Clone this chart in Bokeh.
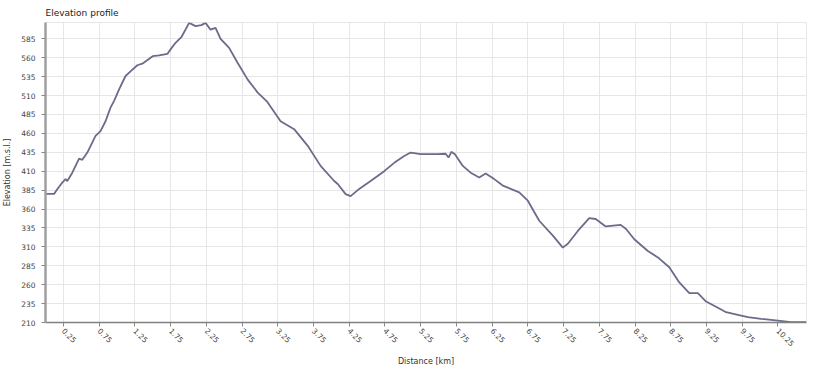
import math
from bokeh.plotting import figure
from bokeh.models import FixedTicker, Range1d
from bokeh.embed import file_html
from bokeh.resources import INLINE

distance_km = [0.00, 0.12, 0.165, 0.235, 0.28, 0.305, 0.375, 0.47, 0.515, 0.585,
               0.70, 0.77, 0.84, 0.91, 0.96, 1.03, 1.12, 1.19, 1.285, 1.355,
               1.50, 1.59, 1.705, 1.75, 1.82, 1.905, 2.01, 2.10, 2.18, 2.24,
               2.31, 2.38, 2.45, 2.57, 2.69, 2.83, 2.97, 3.105, 3.29, 3.48,
               3.67, 3.85, 4.04, 4.09, 4.20, 4.27, 4.37, 4.55, 4.74, 4.88,
               5.02, 5.11, 5.25, 5.49, 5.60, 5.64, 5.68, 5.73, 5.84, 5.95,
               6.07, 6.16, 6.28, 6.40, 6.63, 6.75, 6.91, 7.10, 7.24, 7.31,
               7.45, 7.61, 7.70, 7.84, 8.05, 8.125, 8.24, 8.43, 8.57, 8.73,
               8.87, 9.01, 9.13, 9.245, 9.41, 9.525, 9.69, 9.83, 10.015, 10.25,
               10.435, 10.645]
elevation_m = [380, 380, 386, 395, 399.5, 397, 408, 426.7, 425, 434.6,
               456.7, 463, 476, 494, 503, 518, 535.8, 542, 550, 552,
               562, 563, 565, 571, 579.7, 587.6, 606, 601.7, 603, 606,
               597, 599.5, 585, 573, 553, 531, 513.8, 501.5, 476, 465.5,
               443.5, 417, 397, 393, 379.7, 377, 385, 397, 410, 421,
               430, 434.6, 432.5, 432.5, 433, 428, 435.5, 432.5, 417, 408,
               401.6, 407, 399.5, 391, 382, 371, 344.5, 324.8, 309, 314,
               331, 348, 346.8, 337, 339, 333.6, 320, 304.5, 296, 283,
               263, 248.7, 248.7, 237.7, 229.4, 223.6, 220, 217, 214.8, 212.6,
               210.4, 210.4]

x_ticks = [0.25, 0.75, 1.25, 1.75, 2.25, 2.75, 3.25, 3.75, 4.25, 4.75, 5.25,
           5.75, 6.25, 6.75, 7.25, 7.75, 8.25, 8.75, 9.25, 9.75, 10.25]
y_ticks = [210, 235, 260, 285, 310, 335, 360, 385, 410, 435, 460, 485,
           510, 535, 560, 585]

FONT = "DejaVu Sans"

p = figure(frame_width=761, frame_height=300,
           x_range=Range1d(0, 10.65), y_range=Range1d(210, 606.5),
           title="Elevation profile",
           output_backend="svg", toolbar_location=None,
           min_border_left=43, min_border_right=22,
           min_border_top=22, min_border_bottom=0,
           background_fill_color="white", border_fill_color="white")

p.line(distance_km, elevation_m, line_color="#6b6b8c", line_width=1.8)

p.title.text_font = FONT
p.title.text_font_size = "9px"
p.title.text_font_style = "normal"
p.title.text_color = "#222222"
p.title.standoff = 10
p.title.offset = 0

p.outline_line_color = "#e6e6e6"

for ax in (p.xaxis[0], p.yaxis[0]):
    ax.major_label_text_font = FONT
    ax.major_label_text_font_size = "7.5px"
    ax.major_label_text_color = "#444444"
    ax.axis_label_text_font = FONT
    ax.axis_label_text_font_size = "8px"
    ax.axis_label_text_font_style = "normal"
    ax.axis_label_text_color = "#333333"
    ax.minor_tick_line_color = None
    ax.major_tick_in = 0
    ax.major_tick_out = 4
    ax.major_tick_line_color = "#888888"
    ax.major_label_standoff = 3
    ax.axis_label_standoff = 5

p.yaxis.major_label_standoff = 6
p.yaxis.axis_label_standoff = 6
p.xaxis.ticker = FixedTicker(ticks=x_ticks)
p.yaxis.ticker = FixedTicker(ticks=y_ticks)
p.xaxis.axis_label = "Distance [km]"
p.yaxis.axis_label = "Elevation [m.s.l.]"
p.xaxis.major_label_orientation = -math.pi / 4
p.xaxis.axis_line_color = "#808080"
p.xaxis.axis_line_width = 1.5
p.yaxis.axis_line_color = "#a0a0a0"
p.yaxis.axis_line_width = 2.5

p.xgrid.grid_line_color = "#e6e6e6"
p.ygrid.grid_line_color = "#e6e6e6"

open("out.html", "w").write(file_html(p, INLINE))
